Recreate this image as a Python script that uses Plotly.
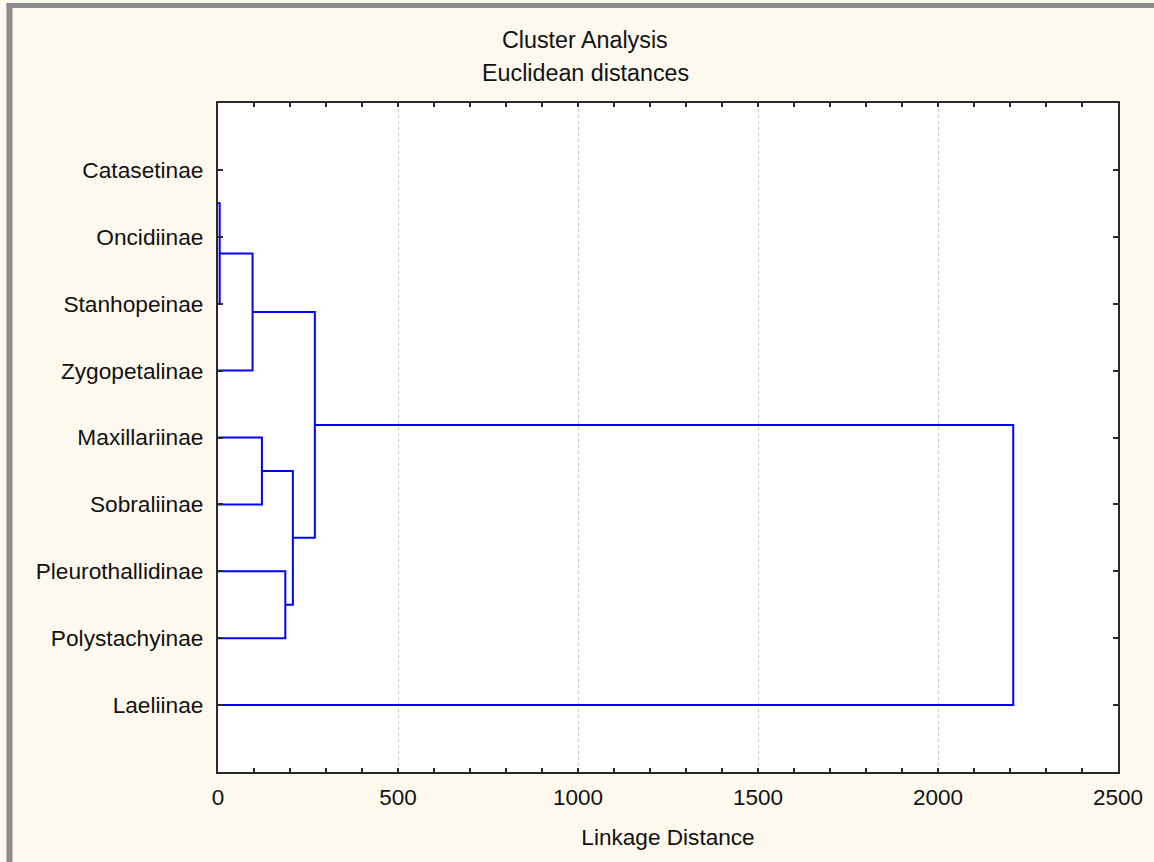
import plotly.graph_objects as go

# ---- data ----
labels = ["Catasetinae", "Oncidiinae", "Stanhopeinae", "Zygopetalinae",
          "Maxillariinae", "Sobraliinae", "Pleurothallidinae", "Polystachyinae",
          "Laeliinae"]
# linkage steps (scipy style: leaves 0..8, new clusters numbered from 9)
merge_left = [0, 9, 10, 4, 6, 12, 11, 15]
merge_right = [1, 2, 3, 5, 7, 13, 14, 8]
merge_dist = [0, 4.7, 96, 122, 187, 208, 269, 2209]

x_ticks = [0, 500, 1000, 1500, 2000, 2500]

# ---- build dendrogram segments from the linkage ----
n = len(labels)
pos = {i: i + 1 for i in range(n)}        # y position of each node
height = {i: 0.0 for i in range(n)}       # linkage distance of each node
xs, ys = [], []
for k, (a, b, d) in enumerate(zip(merge_left, merge_right, merge_dist)):
    ya, yb = pos[a], pos[b]
    if d > 0:   # a zero-distance merge draws nothing
        xs += [height[a], d, d, height[b], None]
        ys += [ya, ya, yb, yb, None]
    new = n + k
    pos[new] = (ya + yb) / 2
    height[new] = d

FONT = "Liberation Sans, Arial, sans-serif"
BG = "#FEF9EE"
AX = "#2a2a2a"

fig = go.Figure()
fig.add_trace(go.Scatter(x=xs, y=ys, mode="lines",
                         line=dict(color="#0000FF", width=2),
                         hoverinfo="skip", showlegend=False))

L, R, T, B = 218, 36, 103, 90
W, H = 1154, 862
pw, ph = W - L - R, H - T - B

def py(ypix):
    return 1 + (T - ypix) / ph

def px(xpix):
    return (xpix - L) / pw

fig.update_layout(
    width=W, height=H,
    margin=dict(l=L, r=R, t=T, b=B),
    paper_bgcolor=BG, plot_bgcolor="white",
    font=dict(family=FONT, size=22, color="#111111"),
    showlegend=False,
    xaxis=dict(range=[0, 2500], tickvals=x_ticks, ticks="inside", ticklen=4,
               tickcolor=AX, tickwidth=2,
               showline=True, linecolor=AX, linewidth=2, mirror="ticks",
               showgrid=True, gridcolor="#c8c8c8", griddash="dot", gridwidth=1,
               zeroline=False, ticklabelstandoff=4,
               minor=dict(dtick=100, ticks="inside", ticklen=4, tickcolor=AX,
                          tickwidth=2, showgrid=False),
               title=dict(text="Linkage Distance", standoff=20,
                          font=dict(size=22.6)),
               tickfont=dict(size=22.5)),
    yaxis=dict(range=[10, 0], tickvals=list(range(1, n + 1)), ticktext=labels,
               ticks="inside", ticklen=5, tickcolor=AX, tickwidth=2,
               showline=True, linecolor=AX, linewidth=2, mirror="ticks",
               showgrid=False, zeroline=False, ticklabelstandoff=8,
               tickfont=dict(size=22.7)),
    annotations=[
        dict(text="Cluster Analysis", xref="paper", yref="paper",
             x=px(585), y=py(40), showarrow=False, xanchor="center",
             yanchor="middle", font=dict(size=23.3)),
        dict(text="Euclidean distances", xref="paper", yref="paper",
             x=px(585), y=py(73), showarrow=False, xanchor="center",
             yanchor="middle", font=dict(size=23.3)),
    ],
    shapes=[
        dict(type="line", xref="paper", yref="paper",
             x0=px(9.5), x1=px(9.5), y0=py(3), y1=py(870),
             line=dict(color="#8c8c8c", width=6)),
        dict(type="line", xref="paper", yref="paper",
             x0=px(6.5), x1=px(1160), y0=py(5.5), y1=py(5.5),
             line=dict(color="#8c8c8c", width=5)),
    ],
)

fig.write_html("out.html")
